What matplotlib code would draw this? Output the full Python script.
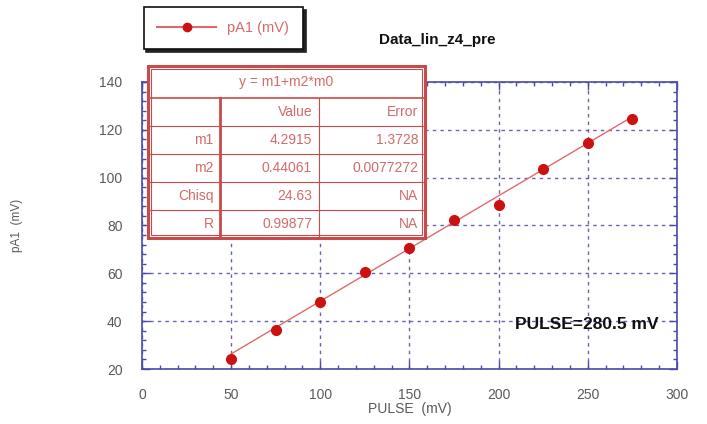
import matplotlib.pyplot as plt
from matplotlib.patches import Rectangle
from matplotlib.ticker import MultipleLocator
import numpy as np

# measured points
pulse = [50, 75, 100, 125, 150, 175, 200, 225, 250, 275]
pa1 = [24, 36.5, 48, 60.5, 70.5, 82.5, 88.5, 103.5, 114.5, 124.5]

# linear fit y = m1 + m2*m0
fit_rows = ["m1", "m2", "Chisq", "R"]
fit_values = ["4.2915", "0.44061", "24.63", "0.99877"]
fit_errors = ["1.3728", "0.0077272", "NA", "NA"]
m1, m2 = 4.2915, 0.44061

plt.rcParams["font.family"] = ["Liberation Sans", "DejaVu Sans"]

RED = "#cc1111"
LINE_RED = "#e06a6a"
TAB_RED = "#c94a4a"
TXT_RED = "#d46a6a"
BLUE = "#4a4aa8"
GRAY = "#5a5a5a"

fig = plt.figure(figsize=(7.07, 4.24), dpi=100)
ax = fig.add_axes([0.2008, 0.1297, 0.7567, 0.677])

xs = np.array([pulse[0], pulse[-1]])
ax.plot(xs, m1 + m2 * xs, color=LINE_RED, lw=1.0, zorder=3)
ax.plot(pulse, pa1, "o", color=RED, ms=7, mec=RED, zorder=4)

ax.set_xlim(0, 300)
ax.set_ylim(20, 140)
ax.xaxis.set_major_locator(MultipleLocator(50))
ax.xaxis.set_minor_locator(MultipleLocator(10))
ax.yaxis.set_major_locator(MultipleLocator(20))
ax.yaxis.set_minor_locator(MultipleLocator(4))
ax.tick_params(which="both", direction="in", top=True, right=True,
               color=BLUE, labelcolor=GRAY, labelsize=10)
ax.tick_params(which="major", length=6, width=1)
ax.tick_params(axis="x", which="major", pad=14)
ax.tick_params(axis="y", which="major", pad=14)
ax.tick_params(which="minor", length=3, width=1)
for s in ax.spines.values():
    s.set_color(BLUE)
    s.set_linewidth(1.2)
ax.grid(True, which="major", color=BLUE, ls=(0, (2.5, 3)), lw=1.0, alpha=0.85)

ax.set_xlabel("PULSE  (mV)", color=GRAY, fontsize=10, labelpad=0)
ax.set_ylabel("pA1  (mV)", color=GRAY, fontsize=8.5, labelpad=55)

ax.text(0.966, 0.155, "PULSE=280.5 mV", transform=ax.transAxes,
        ha="right", va="center", fontsize=12.5, fontweight="bold", color="#111111")
fig.text(0.618, 0.905, "Data_lin_z4_pre", ha="center", va="center",
         fontsize=11, fontweight="bold", color="#111111")

# fit parameter table, axes coordinates
x0, x1, x2, x3 = 0.011, 0.146, 0.330, 0.529
ytop, yhead, ybot = 1.056, 0.945, 0.456
rh = (yhead - ybot) / 5
tkw = dict(transform=ax.transAxes, clip_on=False, zorder=6)
ax.add_patch(Rectangle((x0, ybot), x3 - x0, ytop - ybot, fc="white",
                       ec=TAB_RED, lw=2.2, **tkw))
ax.add_patch(Rectangle((x0 + 0.006, ybot + 0.01), x3 - x0 - 0.012,
                       ytop - ybot - 0.02, fc="none", ec=TAB_RED, lw=0.8, **tkw))
ax.plot([x0, x3], [yhead, yhead], color=TAB_RED, lw=1.2, **tkw)
for i in range(1, 5):
    y = yhead - i * rh
    ax.plot([x0, x3], [y, y], color=TAB_RED, lw=0.8, **tkw)
ax.plot([x1, x1], [ybot, yhead], color=TAB_RED, lw=2.0, **tkw)
ax.plot([x2, x2], [ybot, yhead], color=TAB_RED, lw=0.8, **tkw)

ttk = dict(transform=ax.transAxes, color=TXT_RED, fontsize=10, va="center",
           zorder=7, clip_on=False)
ax.text((x0 + x3) / 2, (ytop + yhead) / 2, "y = m1+m2*m0", ha="center", **ttk)
ax.text(x2 - 0.012, yhead - rh / 2, "Value", ha="right", **ttk)
ax.text(x3 - 0.012, yhead - rh / 2, "Error", ha="right", **ttk)
for i, (name, val, err) in enumerate(zip(fit_rows, fit_values, fit_errors)):
    y = yhead - (i + 1.5) * rh
    ax.text(x1 - 0.012, y, name, ha="right", **ttk)
    ax.text(x2 - 0.012, y, val, ha="right", **ttk)
    ax.text(x3 - 0.012, y, err, ha="right", **ttk)

leg_handle, = ax.plot([], [], "-o", color=LINE_RED, mfc=RED, mec=RED, ms=6)
leg = fig.legend([leg_handle], ["pA1 (mV)"], loc="center",
                 bbox_to_anchor=(0.316, 0.934), frameon=True, fancybox=False,
                 shadow={"color": "#222222", "alpha": 1.0}, edgecolor="#111111",
                 labelcolor=TXT_RED, fontsize=10.5, handlelength=4.0,
                 handletextpad=0.8, borderpad=0.95, borderaxespad=0)
leg.get_frame().set_linewidth(1.2)

fig.savefig("out.png", dpi=100)
